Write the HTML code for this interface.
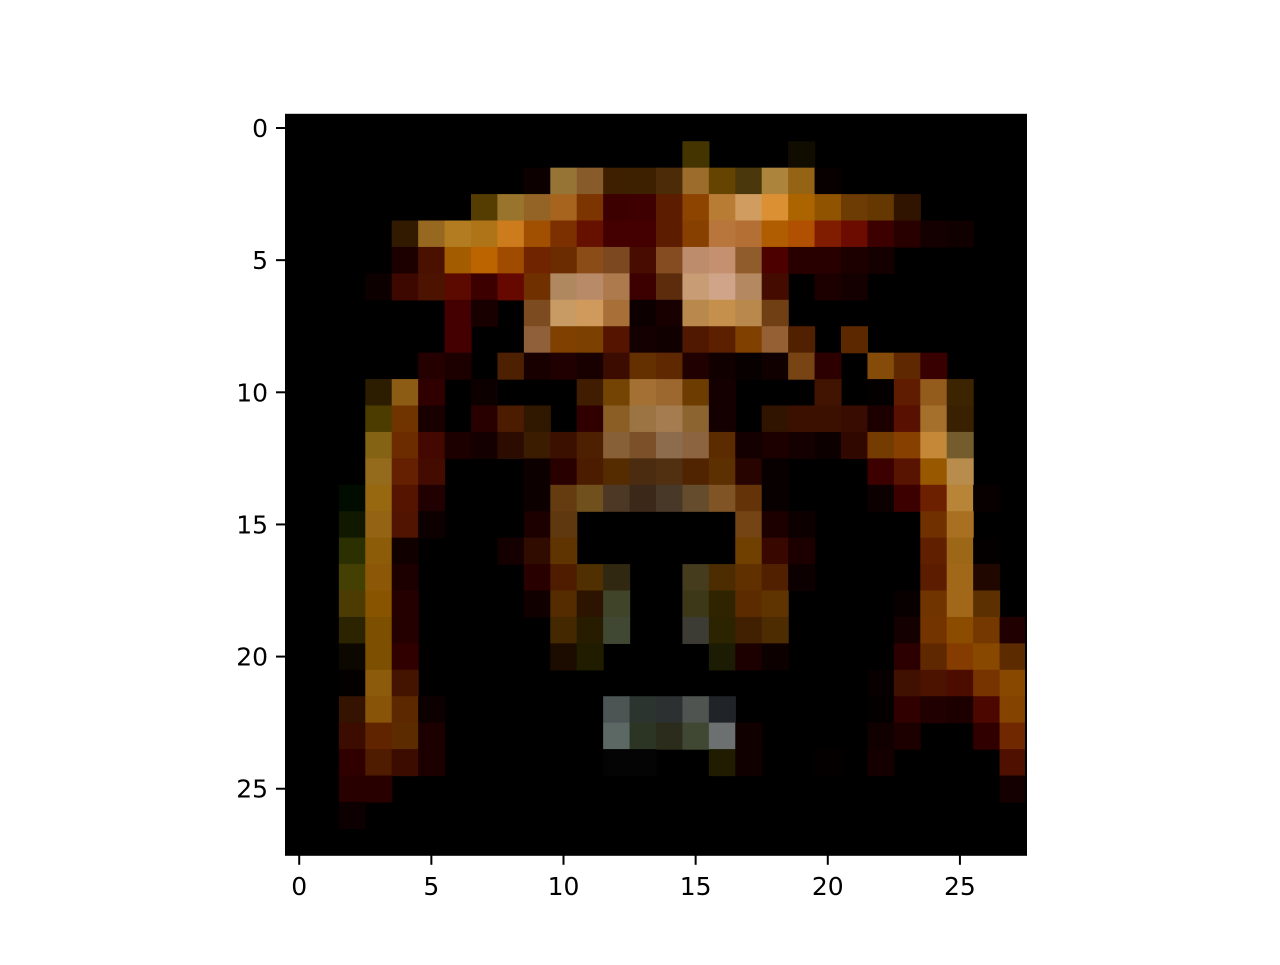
<!DOCTYPE html>
<html><head><meta charset="utf-8"><style>
html,body{margin:0;padding:0;background:#fff;}
svg text{font-family:"DejaVu Sans","Liberation Sans",sans-serif;font-size:25px;fill:#000;}
</style></head>
<body>
<svg id="chart" width="1280" height="960" xmlns="http://www.w3.org/2000/svg">
<rect width="1280" height="960" fill="#fff"/>
<g id="cells"></g>
<g id="axes"></g>
</svg>
<script>
const xTicks = [0,5,10,15,20,25];
const yTicks = [0,5,10,15,20,25];
const pixelRows = [
"",
"15:443400 19:100c00",
"9:0c0000 10:967435 11:875c2a 12:3e2000 13:3c2000 14:4c2c08 15:9c6c2c 16:644400 17:4a380c 18:ac843c 19:946414 20:080000",
"7:553c00 8:98742c 9:946426 10:a6641e 11:7c3400 12:3c0000 13:3e0000 14:5c1c00 15:8c4400 16:b87c34 17:d09c60 18:dc9034 19:ac6400 20:905400 21:6c3c04 22:643800 23:301400",
"4:321a00 5:966820 6:b47c20 7:b07418 8:cc7c1c 9:a05000 10:7c3000 11:661000 12:440000 13:440000 14:5c1c00 15:884000 16:b8763c 17:b47034 18:b05c00 19:b05000 20:801c00 21:6c0c00 22:3c0000 23:280000 24:140000 25:100000",
"4:1c0000 5:4a1000 6:a45c00 7:bc6400 8:a04c00 9:702400 10:6a2c00 11:8c4c18 12:7c4820 13:480c00 14:844c20 15:bc8c6c 16:c49070 17:905c2c 18:4c0000 19:280000 20:280000 21:1c0000 22:140000",
"3:0c0000 4:3c0800 5:4c1400 6:5c0a00 7:3c0000 8:640800 9:703000 10:b08860 11:b88a68 12:ac7a4c 13:3c0000 14:5c2c0c 15:c89c74 16:d0a488 17:b48860 18:440c00 20:1c0000 21:140000",
"6:440000 7:180000 9:7c4c20 10:c89a64 11:d09a5c 12:a87038 13:0c0000 14:180000 15:b8884c 16:c4904c 17:b8884c 18:704014",
"6:440000 9:90603a 10:804000 11:7c4000 12:541400 13:140000 14:100000 15:501800 16:5c2000 17:804000 18:946034 19:502000 21:5c2800",
"5:240000 6:1c0000 8:4c2000 9:180000 10:200000 11:180000 12:3c0c00 13:643000 14:602800 15:200000 16:100000 17:080000 18:100000 19:784414 20:2c0000 22:844c08 23:602800 24:380000",
"3:2c1c00 4:8c5c14 5:300000 7:0c0000 11:401c00 12:744404 13:a47034 14:9c6830 15:6c3c00 16:140000 20:401400 22:040000 23:601c00 24:945c1c 25:3c2400",
"3:4c3c00 4:703400 5:180000 7:280000 8:4c1c00 9:301800 11:300000 12:8a5e24 13:9c7444 14:a47c50 15:8c6430 16:140000 18:301400 19:3c1000 20:3c1000 21:380c00 22:1c0000 23:581000 24:a4702c 25:382000",
"3:846414 4:6c2c00 5:440800 6:1c0000 7:140000 8:2c0c00 9:3c1c00 10:3c1000 11:4c2000 12:886038 13:7c5028 14:8c6c4c 15:8c6440 16:5c2c00 17:140000 18:1c0000 19:140000 20:0c0000 21:300800 22:743c00 23:884000 24:c48838 25:745c2c",
"3:946a1c 4:642000 5:440c00 9:0c0000 10:280000 11:4c1c00 12:542c00 13:4c2c10 14:503010 15:502400 16:5c3000 17:280400 18:080000 22:3c0000 23:581400 24:985800 25:b88c4c",
"2:000c00 3:986810 4:541400 5:200000 9:0c0000 10:643c10 11:70501c 12:4c3824 13:3c2818 14:483828 15:644c2c 16:805424 17:643408 18:080000 22:0c0000 23:3c0000 24:6c2000 25:b88438 26:080000",
"2:101800 3:946414 4:501400 5:0c0000 9:1c0000 10:603810 17:744414 18:1c0000 19:0c0000 24:703000 25:a87020",
"2:2c3000 3:8c5c08 4:100000 8:140000 9:300c00 10:603400 17:704000 18:380800 19:1c0000 24:602000 25:9c6818 26:040000",
"2:444004 3:8c5808 4:1c0000 9:280000 10:501c00 11:503000 12:302810 15:443c1c 16:4c2c00 17:603000 18:502000 19:0c0000 24:5c1c00 25:a06818 26:200800",
"2:4c3c04 3:885400 4:240000 9:100000 10:542c00 11:2c1400 12:404428 15:3c3818 16:302400 17:5c2c00 18:603400 23:080000 24:703400 25:a06818 26:5c3000",
"2:2c2400 3:7c5000 4:240000 10:442800 11:281c00 12:404834 15:3c3c34 16:2c2400 17:402000 18:4c2c00 23:140000 24:743400 25:8c4c00 26:743800 27:200000",
"2:0c0800 3:7c5000 4:300000 10:1c0c00 11:201c00 16:1c1c04 17:1c0000 18:0c0000 23:2c0000 24:602800 25:843c00 26:884800 27:5c2c00",
"2:040000 3:8c5c0c 4:441400 22:080000 23:401000 24:4c1400 25:4c0c00 26:783400 27:884800",
"2:341400 3:885408 4:5c2800 5:0c0000 12:4c5454 13:2c3430 14:2c3030 15:505450 16:202428 22:040000 23:300000 24:200000 25:1c0000 26:4c0800 27:844400",
"2:3c0c00 3:602400 4:5c2c00 5:1c0000 12:5c6864 13:2c3424 14:2c2c1c 15:404834 16:6c7070 17:100000 22:100000 23:1c0000 26:300000 27:702800",
"2:300000 3:501c00 4:3c0c00 5:1c0000 12:040404 13:040404 16:201c00 17:100000 20:040000 22:140000 27:501000",
"2:280000 3:280000 27:140000",
"2:0c0000",
""
];
const NS = "http://www.w3.org/2000/svg";
const x0 = 286, y0 = 114.8, cell = 740/28;
function xScale(v){ return x0 + (v + 0.5) * cell; }
function yScale(v){ return y0 + (v + 0.5) * cell; }
const cells = document.getElementById('cells');
const bg = document.createElementNS(NS,'rect');
bg.setAttribute('x', x0); bg.setAttribute('y', y0);
bg.setAttribute('width', 740); bg.setAttribute('height', 740);
bg.setAttribute('fill', '#000');


cells.appendChild(bg);
pixelRows.forEach((row, r) => {
  if (!row) return;
  row.split(' ').forEach(tok => {
    const [c, hex] = tok.split(':');
    const ci = +c;
    const rc = document.createElementNS(NS,'rect');
    rc.setAttribute('x', (xScale(ci) - cell/2).toFixed(2));
    rc.setAttribute('y', (yScale(r) - cell/2).toFixed(2));
    rc.setAttribute('width', (cell + 0.6).toFixed(2));
    rc.setAttribute('height', (cell + 0.6).toFixed(2));
    rc.setAttribute('fill', '#' + hex);
    
    
    cells.appendChild(rc);
  });
});
const axes = document.getElementById('axes');
const frame = document.createElementNS(NS,'rect');
frame.setAttribute('x', x0); frame.setAttribute('y', y0);
frame.setAttribute('width', 740); frame.setAttribute('height', 740);
frame.setAttribute('fill', 'none'); frame.setAttribute('stroke', '#000'); frame.setAttribute('stroke-width', '2');


axes.appendChild(frame);
xTicks.forEach(t => {
  const x = xScale(t);
  const ln = document.createElementNS(NS,'line');
  ln.setAttribute('x1', x); ln.setAttribute('x2', x);
  ln.setAttribute('y1', y0 + 740); ln.setAttribute('y2', y0 + 750);
  ln.setAttribute('stroke', '#000'); ln.setAttribute('stroke-width', '2');
  
  
  axes.appendChild(ln);
  const tx = document.createElementNS(NS,'text');
  tx.setAttribute('x', x); tx.setAttribute('y', 895);
  tx.setAttribute('text-anchor', 'middle');
  tx.textContent = t;
  
  
  axes.appendChild(tx);
});
yTicks.forEach(t => {
  const y = yScale(t);
  const ln = document.createElementNS(NS,'line');
  ln.setAttribute('x1', x0 - 10); ln.setAttribute('x2', x0);
  ln.setAttribute('y1', y); ln.setAttribute('y2', y);
  ln.setAttribute('stroke', '#000'); ln.setAttribute('stroke-width', '2');
  
  
  axes.appendChild(ln);
  const tx = document.createElementNS(NS,'text');
  tx.setAttribute('x', 268); tx.setAttribute('y', y + 9);
  tx.setAttribute('text-anchor', 'end');
  tx.textContent = t;
  
  
  axes.appendChild(tx);
});
</script>
</body></html>
